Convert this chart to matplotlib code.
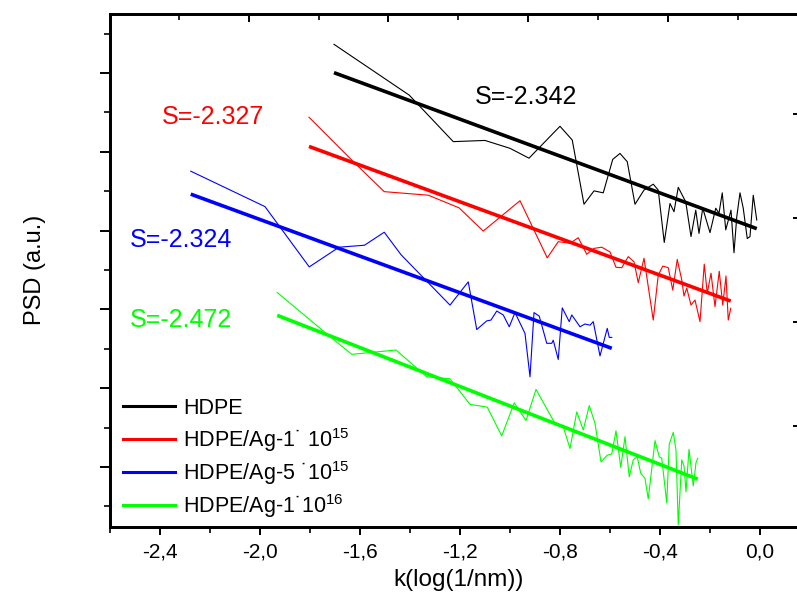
import numpy as np
import matplotlib
matplotlib.use("Agg")
import matplotlib.pyplot as plt
from matplotlib.ticker import MultipleLocator, FixedLocator, FuncFormatter

plt.rcParams["font.family"] = ["Liberation Sans", "DejaVu Sans"]
plt.rcParams["mathtext.fontset"] = "custom"
plt.rcParams["mathtext.rm"] = "Liberation Sans"
plt.rcParams["mathtext.it"] = "Liberation Sans:italic"

# ---------------- DATA (log k, log PSD, curves offset for display) ----------------

hdpe_x = [-1.704, -1.403, -1.227, -1.100, -1.000, -0.924, -0.800, -0.751, -0.704, -0.664,
          -0.627, -0.589, -0.560, -0.531, -0.500, -0.464, -0.427, -0.407, -0.383, -0.360,
          -0.344, -0.327, -0.297, -0.276, -0.257, -0.244, -0.229, -0.200, -0.177, -0.164,
          -0.151, -0.137, -0.116, -0.104, -0.093, -0.080, -0.067, -0.051, -0.040, -0.027,
          -0.013]
hdpe_y = [10.73, 9.44, 8.26, 8.29, 8.09, 7.84, 8.65, 8.30, 6.67, 7.01,
          6.96, 7.81, 7.96, 7.75, 6.67, 7.03, 7.18, 7.03, 5.70, 6.69,
          6.48, 7.10, 6.73, 5.85, 6.52, 5.93, 6.57, 5.95, 6.57, 6.44,
          6.96, 6.02, 6.52, 5.44, 6.35, 6.96, 6.57, 5.80, 5.85, 6.90,
          6.27]

ag1e15_x = [-1.804, -1.620, -1.503, -1.327, -1.204, -1.107, -0.960, -0.851, -0.807, -0.760,
            -0.727, -0.693, -0.664, -0.633, -0.600, -0.576, -0.553, -0.527, -0.504, -0.487,
            -0.464, -0.427, -0.407, -0.389, -0.367, -0.349, -0.331, -0.313, -0.304, -0.293,
            -0.276, -0.260, -0.240, -0.223, -0.211, -0.196, -0.180, -0.163, -0.149, -0.136,
            -0.127, -0.117]
ag1e15_y = [8.88, 7.71, 6.99, 6.90, 6.58, 5.99, 6.76, 5.31, 5.72, 5.68,
            5.82, 5.40, 5.55, 5.58, 5.46, 5.07, 5.06, 5.34, 5.21, 4.68,
            5.30, 3.73, 4.87, 5.10, 5.06, 4.49, 5.27, 4.75, 4.34, 4.54,
            4.11, 4.24, 3.69, 5.15, 4.41, 4.92, 4.07, 4.97, 4.11, 4.85,
            3.73, 4.03]

ag5e15_x = [-2.277, -1.980, -1.803, -1.684, -1.582, -1.503, -1.436, -1.240, -1.167, -1.133,
            -1.093, -1.076, -1.053, -1.027, -1.003, -0.980, -0.940, -0.920, -0.904, -0.883,
            -0.853, -0.833, -0.827, -0.807, -0.791, -0.763, -0.753, -0.720, -0.700, -0.680,
            -0.667, -0.640, -0.611, -0.603, -0.593]
ag5e15_y = [7.51, 6.61, 5.08, 5.58, 5.63, 5.96, 5.39, 4.11, 4.70, 3.49,
            3.71, 3.73, 3.96, 3.86, 3.56, 3.92, 3.39, 2.29, 3.92, 3.83,
            3.14, 3.14, 3.22, 2.73, 4.04, 3.69, 3.86, 3.56, 3.63, 3.60,
            3.69, 2.82, 3.52, 3.29, 3.29]

ag1e16_x = [-1.931, -1.733, -1.633, -1.456, -1.333, -1.240, -1.160, -1.091, -1.033, -0.983,
            -0.936, -0.896, -0.824, -0.787, -0.760, -0.733, -0.707, -0.683, -0.660, -0.636,
            -0.611, -0.593, -0.576, -0.557, -0.540, -0.523, -0.507, -0.491, -0.477, -0.460,
            -0.447, -0.420, -0.403, -0.393, -0.373, -0.363, -0.347, -0.336, -0.327, -0.313,
            -0.304, -0.296, -0.284, -0.267, -0.256, -0.249]
ag1e16_y = [4.43, 3.38, 2.86, 2.97, 2.29, 2.24, 1.59, 1.52, 0.79, 1.63,
            1.18, 1.97, 1.15, 1.02, 0.47, 1.40, 0.94, 1.56, 1.11, 0.13,
            0.30, 0.33, 0.92, -0.01, 0.77, -0.25, 0.18, 0.26, -0.16, -0.29,
            -0.81, 0.67, 0.26, 0.22, -0.91, 0.58, 0.88, 0.43, -1.47, 0.18,
            0.03, -0.63, 0.45, -0.48, 0.11, 0.22]

# linear fits: slope S and intercept
slopes = [-2.342, -2.327, -2.324, -2.472]
intercepts = [6.02, 3.94, 1.635, -0.923]

labels = ["HDPE",
          "HDPE/Ag-1\u02d9 10$^{15}$",
          "HDPE/Ag-5 \u02d910$^{15}$",
          "HDPE/Ag-1\u02d910$^{16}$"]
colors = ["black", "#ff0000", "#0000ff", "#00ff00"]

series = [(hdpe_x, hdpe_y), (ag1e15_x, ag1e15_y), (ag5e15_x, ag5e15_y), (ag1e16_x, ag1e16_y)]

# ---------------- PLOT ----------------

fig = plt.figure(figsize=(7.97, 6.04), dpi=100)
ax = fig.add_axes([110 / 797, 77 / 604, 690 / 797, 513 / 604])

for (xs, ys), c in zip(series, colors):
    ax.plot(xs, ys, color=c, lw=0.8)

for (xs, ys), c, s, b in zip(series, colors, slopes, intercepts):
    fx = np.array([xs[0], xs[-1]])
    ax.plot(fx, b + s * fx, color=c, lw=2.6, solid_capstyle="butt")

# slope annotations
ax.text(-1.14, 9.39, "S=%.3f" % slopes[0], color=colors[0], fontsize=18, va="center")
ax.text(-2.392, 8.88, "S=%.3f" % slopes[1], color=colors[1], fontsize=18, va="center")
ax.text(-2.52, 5.76, "S=%.3f" % slopes[2], color=colors[2], fontsize=18, va="center")
ax.text(-2.52, 3.73, "S=%.3f" % slopes[3], color=colors[3], fontsize=18, va="center")

# legend drawn by hand
for i, (lab, c) in enumerate(zip(labels, colors)):
    ly = 406 + 33 * i
    yf = (527 - ly) / 513
    ax.plot([13 / 690, 65 / 690], [yf, yf], color=c, lw=2.2, transform=ax.transAxes)
    ax.text(73 / 690, (527 - ly - 8) / 513, lab, fontsize=15.5, transform=ax.transAxes,
            va="baseline", ha="left")

ax.set_xlim(-2.6, 0.16)
ax.set_ylim(-1.523, 11.5)

ax.xaxis.set_major_locator(MultipleLocator(0.4))
ax.xaxis.set_minor_locator(MultipleLocator(0.2))
ax.xaxis.set_major_formatter(FuncFormatter(lambda v, p: ("%.1f" % v).replace(".", ",").replace("-0,0", "0,0")))
ax.yaxis.set_major_locator(MultipleLocator(2))
ax.yaxis.set_minor_locator(MultipleLocator(1))

ax.tick_params(axis="x", which="major", direction="out", length=6, width=1.4, labelsize=15, pad=5, top=False)
ax.tick_params(axis="x", which="minor", direction="out", length=4, width=1.2, top=False)
ax.tick_params(axis="y", which="major", direction="out", length=7, width=1.4, labelleft=False, right=False)
ax.tick_params(axis="y", which="minor", direction="out", length=4, width=1.2, right=False)
for sp in ax.spines.values():
    sp.set_linewidth(1.8)

# extra tick marks on top and right (second layer)
ax_top = ax.twiny()
ax_top.set_xlim(ax.get_xlim())
ax_top.xaxis.set_major_locator(FixedLocator([-2.044, -1.488, -0.928, -0.368]))
ax_top.xaxis.set_minor_locator(FixedLocator([-2.324, -1.764, -1.208, -0.648, -0.088]))
ax_top.tick_params(axis="x", which="major", direction="in", length=6, width=1.4, labeltop=False)
ax_top.tick_params(axis="x", which="minor", direction="in", length=4, width=1.2)

ax_r = ax.twinx()
ax_r.set_ylim(ax.get_ylim())
ax_r.yaxis.set_major_locator(FixedLocator([1.04, 3.68, 6.32, 8.96]))
ax_r.tick_params(axis="y", which="major", direction="in", length=5, width=1.4, labelright=False)
for a in (ax_top, ax_r):
    for sp in a.spines.values():
        sp.set_linewidth(1.8)

fig.text(35 / 797, 1 - 270 / 604, "PSD (a.u.)", rotation=90, fontsize=17, ha="center", va="center")
fig.text(459 / 797, 1 - 580 / 604, "k(log(1/nm))", fontsize=17.5, ha="center", va="center")

fig.savefig("out.png", dpi=100)
